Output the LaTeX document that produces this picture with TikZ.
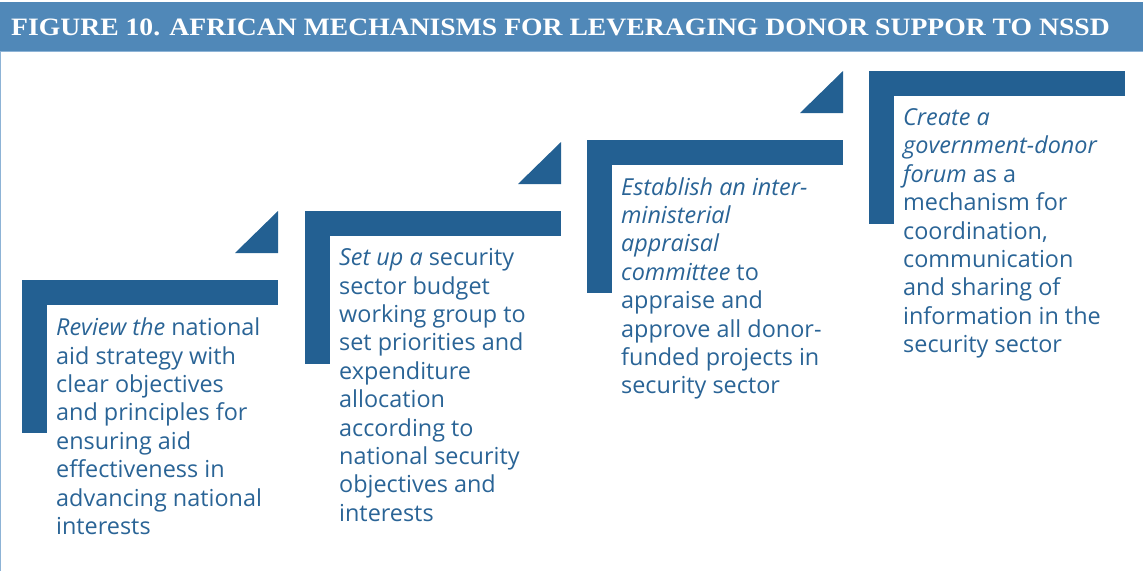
\documentclass[tikz,border=0pt]{standalone}
\usepackage{graphicx}
\usepackage{fontspec}
\setmainfont{Open Sans}
\newfontfamily\headfont{Liberation Serif}
\definecolor{stepblue}{HTML}{236092}
\definecolor{textblue}{HTML}{2A6496}
\definecolor{headblue}{HTML}{5088B8}
\definecolor{rimblue}{HTML}{8DB3D6}
% L-shaped step marker: top-left corner at (#1,#2)
\newcommand{\stepmark}[2]{%
  \fill[stepblue] (#1,#2) rectangle ++(256,25);
  \fill[stepblue] (#1,#2) rectangle ++(25,153);
}
% small right triangle above a step, right edge flush with the bar
\newcommand{\steptip}[2]{%
  \fill[stepblue] (#1+213,#2-27) -- (#1+256,#2-27) -- (#1+256,#2-69) -- cycle;
}
\newcommand{\notetext}[1]{%
  \begin{minipage}[t]{238pt}\raggedright\fontsize{23.4}{28.4}\selectfont #1\end{minipage}}
\begin{document}
\begin{tikzpicture}[x=1pt,y=-1pt,
  stepnote/.style={anchor=base west, inner sep=0pt, text=textblue},
  heading/.style={anchor=base west, inner sep=0pt, text=white,
    font=\headfont\bfseries\fontsize{25}{25}\selectfont}]
\useasboundingbox (0,0) rectangle (1143,571);
% heading band and frame
\fill[headblue] (0,2) rectangle (1143,50.5);
\fill[rimblue] (0,50.5) rectangle (1143,52);
\fill[rimblue] (0,52) rectangle (1.3,571);
\node[heading] (title) at (11,35) {\scalebox{1.106}[1]{FIGURE 10. AFRICAN MECHANISMS FOR LEVERAGING DONOR SUPPOR TO NSSD}};
% steps
\stepmark{22}{280}
\steptip{22}{280}
\stepmark{305}{211}
\steptip{305}{211}
\stepmark{587}{140}
\steptip{587}{140}
\stepmark{869}{71}
% step texts
\node[stepnote] (s1) at (56,335.7) {\notetext{\textit{Review the} national\\aid strategy with\\clear objectives\\and principles for\\ensuring aid\\effectiveness in\\advancing national\\interests}};
\node[stepnote] (s2) at (339,265.7) {\notetext{\textit{Set up a} security\\sector budget\\working group to\\set priorities and\\expenditure\\allocation\\according to\\national security\\objectives and\\interests}};
\node[stepnote] (s3) at (621,195) {\notetext{\textit{Establish an inter-}\\\textit{ministerial}\\\textit{appraisal}\\\textit{committee} to\\appraise and\\approve all donor-\\funded projects in\\security sector}};
\node[stepnote] (s4) at (903,125.5) {\notetext{\textit{Create a}\\\textit{government-donor}\\\textit{forum} as a\\mechanism for\\coordination,\\communication\\and sharing of\\information in the\\security sector}};
\end{tikzpicture}
\end{document}
